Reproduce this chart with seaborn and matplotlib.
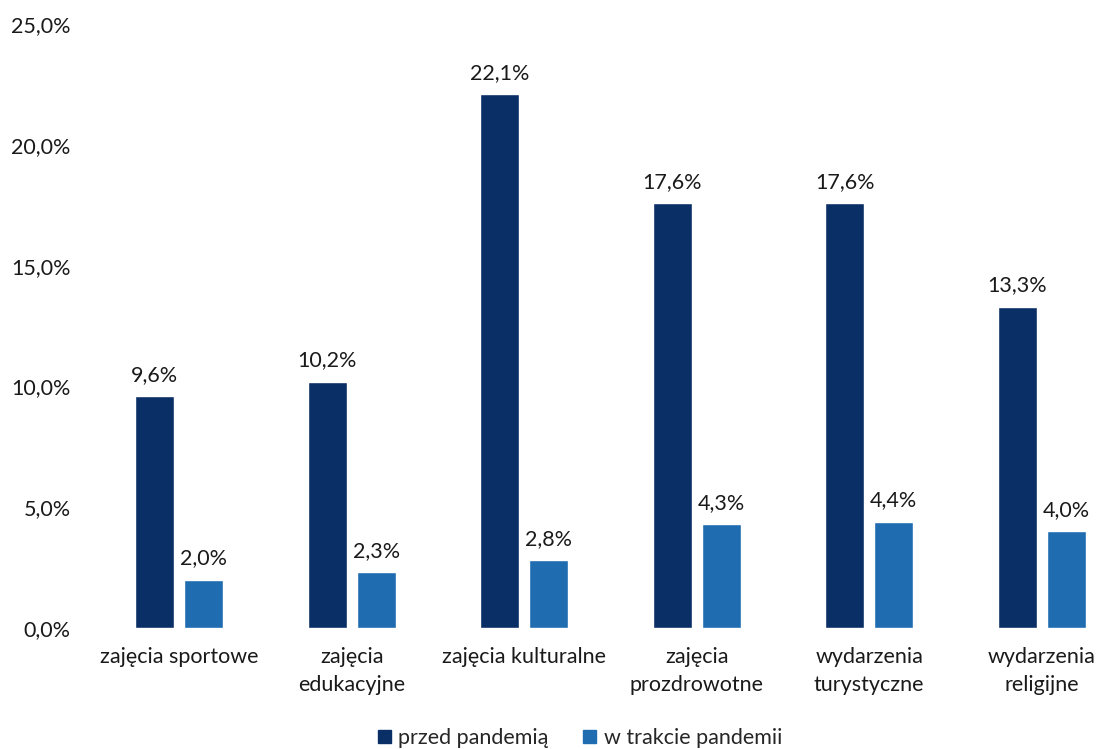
import matplotlib
matplotlib.use("Agg")
import matplotlib.pyplot as plt
import seaborn as sns
import pandas as pd
from matplotlib.ticker import FuncFormatter
from matplotlib.patches import Patch

categories = ["zajęcia sportowe", "zajęcia\nedukacyjne", "zajęcia kulturalne",
              "zajęcia\nprozdrowotne", "wydarzenia\nturystyczne", "wydarzenia\nreligijne"]
series_names = ["przed pandemią", "w trakcie pandemii"]
before = [9.6, 10.2, 22.1, 17.6, 17.6, 13.3]
during = [2.0, 2.3, 2.8, 4.3, 4.4, 4.0]
colors = ["#0A2E66", "#1F6CB0"]

df = pd.DataFrame({
    "cat": categories * 2,
    "series": [series_names[0]] * len(categories) + [series_names[1]] * len(categories),
    "value": before + during,
})

sns.set_theme(style="white")
plt.rcParams["font.family"] = ["Lato", "DejaVu Sans"]

FS = 15.5
TXT = "#1a1a1a"

fig = plt.figure(figsize=(11, 7.49), dpi=100)
ax = fig.add_axes([93 / 1100, (749 - 628) / 749, (1128 - 93) / 1100, 604 / 749])

sns.barplot(data=df, x="cat", y="value", hue="series", palette=colors,
            width=0.568, gap=0.2, ax=ax, legend=False, saturation=1)

ax.set_ylim(0, 25)
ax.set_xlim(-0.5, len(categories) - 0.5)
ax.set_yticks([0, 5, 10, 15, 20, 25])
ax.yaxis.set_major_formatter(FuncFormatter(lambda v, p: f"{v:.1f}%".replace(".", ",")))
ax.tick_params(axis="y", labelsize=FS, pad=16, length=0, colors=TXT)
ax.tick_params(axis="x", labelsize=FS, pad=14, length=0, colors=TXT)
for lab in ax.get_xticklabels():
    lab.set_linespacing(1.45)
ax.set_xlabel("")
ax.set_ylabel("")
for s in ax.spines.values():
    s.set_visible(False)

for cont in ax.containers:
    ax.bar_label(cont, labels=[f"{v:.1f}%".replace(".", ",") for v in cont.datavalues],
                 padding=8, fontsize=FS, color=TXT)

handles = [Patch(facecolor=c, edgecolor=c) for c in colors]
fig.legend(handles, series_names, loc="center", bbox_to_anchor=(580 / 1100, 1 - 738 / 749),
           ncol=2, frameon=False, fontsize=FS, handlelength=0.6, handleheight=0.6,
           handletextpad=0.35, columnspacing=1.6, borderpad=0)

fig.savefig("out.png", dpi=100)
